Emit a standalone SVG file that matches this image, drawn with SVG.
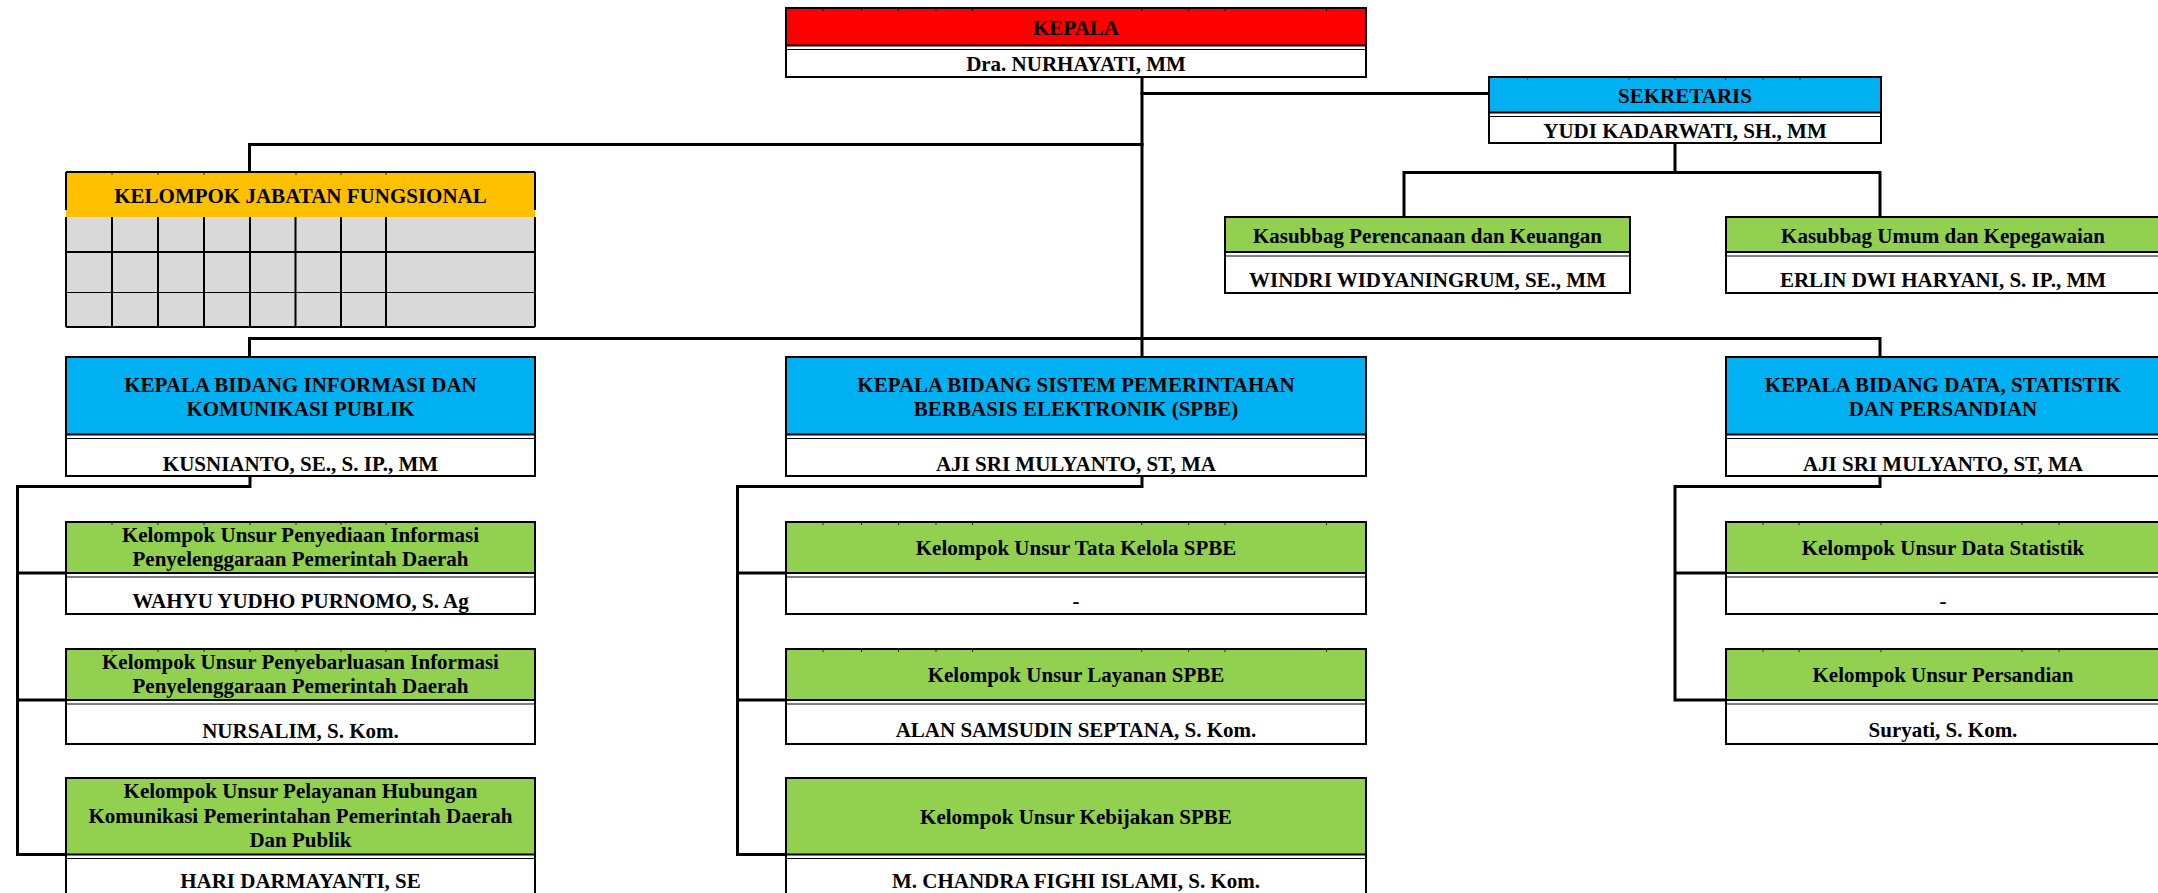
<svg xmlns="http://www.w3.org/2000/svg" width="2158" height="893" viewBox="0 0 2158 893">
<style>
  .bg{fill:#ffffff}
  .box{fill:#ffffff;stroke:#000;stroke-width:2}
  .frame{fill:none;stroke:#000;stroke-width:2}
  .red{fill:#ff0000}
  .blue{fill:#00b0f0}
  .green{fill:#92d050}
  .orange{fill:#ffc000}
  .gray{fill:#d9d9d9}
  .l2{stroke:#000;stroke-width:2;fill:none}
  .l1{stroke:#000;stroke-width:1.2;fill:none}
  .tick{stroke:#000;stroke-width:0.8;fill:none}
  .conn{stroke:#000;stroke-width:3;fill:none;stroke-linecap:square}
  text{font-family:"Liberation Serif","Times New Roman",serif;font-weight:bold;font-size:21px;text-anchor:middle;fill:#000}
</style>
<rect class="bg" x="0" y="0" width="2158" height="893"/>

<g id="connectors">
  <path class="conn" d="M1142 77V357"/>
  <path class="conn" d="M1142 93.5H1489"/>
  <path class="conn" d="M1142 144.5H249.5V172"/>
  <path class="conn" d="M249.5 338.5H1880M249.5 338.5V357M1880 338.5V357"/>
  <path class="conn" d="M1675 143V172.5M1404 217V172.5H1880V217"/>
  <path class="conn" d="M250 476V486.5H17.5V854.5M17.5 573H66M17.5 700H66M17.5 854.5H66"/>
  <path class="conn" d="M1142 476V486.5H737.5V854.5M737.5 573H786M737.5 700H786M737.5 854.5H786"/>
  <path class="conn" d="M1880 476V486.5H1675V700M1675 573H1726M1675 700H1726"/>
</g>

<g id="kepala">
  <rect class="box" x="786" y="8" width="580" height="69"/>
  <rect class="red" x="787" y="9" width="578" height="36.5"/>
  <path class="l2" d="M786 45.5H1366"/><path class="l1" d="M786 49.5H1366"/>
  <path class="tick" d="M823 8v3M861.5 8v3M898.6 8v3M936 8v3M972.5 8v3M1141.7 8v3M1188.7 8v3M1225 8v3M1326.5 8v3"/>
  <rect class="frame" x="786" y="8" width="580" height="69"/>
  <text x="1076" y="35">KEPALA</text>
  <text x="1076" y="70.7">Dra. NURHAYATI, MM</text>
</g>

<g id="sekretaris">
  <rect class="box" x="1489" y="77" width="392" height="66"/>
  <rect class="blue" x="1490" y="78" width="390" height="34.5"/>
  <path class="l2" d="M1489 112.5H1881"/><path class="l1" d="M1489 116.5H1881"/>
  <path class="tick" d="M1527.6 77v3M1629 77v3M1675 77v3M1725.6 77v3M1763 77v3M1800 77v3"/>
  <rect class="frame" x="1489" y="77" width="392" height="66"/>
  <text x="1685" y="102.7">SEKRETARIS</text>
  <text x="1685" y="138.3">YUDI KADARWATI, SH., MM</text>
</g>

<g id="kasubbag-perencanaan">
  <rect class="box" x="1225" y="217" width="405" height="76"/>
  <rect class="green" x="1226" y="218" width="403" height="34"/>
  <path class="l2" d="M1225 252H1630"/><path class="l1" d="M1225 256H1630"/>
  <rect class="frame" x="1225" y="217" width="405" height="76"/>
  <text x="1427.5" y="243.3">Kasubbag Perencanaan dan Keuangan</text>
  <text x="1427.5" y="287.3">WINDRI WIDYANINGRUM, SE., MM</text>
</g>

<g id="kasubbag-umum">
  <rect class="box" x="1726" y="217" width="436" height="76"/>
  <rect class="green" x="1727" y="218" width="434" height="34"/>
  <path class="l2" d="M1726 252H2162"/><path class="l1" d="M1726 256H2162"/>
  <rect class="frame" x="1726" y="217" width="436" height="76"/>
  <text x="1943" y="243.3">Kasubbag Umum dan Kepegawaian</text>
  <text x="1943" y="287.3">ERLIN DWI HARYANI, S. IP., MM</text>
</g>

<g id="kelompok-jabatan-fungsional">
  <rect class="orange" x="66" y="172" width="469" height="45"/>
  <rect class="gray" x="66" y="217" width="469" height="110"/>
  <path class="l2" d="M66 172H535M66 172V210M535 172V210"/>
  <path class="l2" d="M66 217V327M112 217V327M158 217V327M204 217V327M250 217V327M295.5 217V327M341 217V327M386 217V327M535 217V327"/>
  <path class="l2" d="M66 252H535M66 327H535"/>
  <path class="l1" d="M66 292.5H535"/>
  <path class="tick" d="M112 172v3M158 172v3M204 172v3M296 172v3M341 172v3M386 172v3"/>
  <text x="300.5" y="203.3">KELOMPOK JABATAN FUNGSIONAL</text>
</g>

<g id="bidang-ikp">
  <rect class="box" x="66" y="357" width="469" height="119"/>
  <rect class="blue" x="67" y="358" width="467" height="76.5"/>
  <path class="l2" d="M66 434.5H535"/><path class="l1" d="M66 438.5H535"/>
  <rect class="frame" x="66" y="357" width="469" height="119"/>
  <text x="300.5" y="392.3">KEPALA BIDANG INFORMASI DAN</text>
  <text x="300.5" y="416">KOMUNIKASI PUBLIK</text>
  <text x="300.5" y="471">KUSNIANTO, SE., S. IP., MM</text>
</g>

<g id="bidang-spbe">
  <rect class="box" x="786" y="357" width="580" height="119"/>
  <rect class="blue" x="787" y="358" width="578" height="76.5"/>
  <path class="l2" d="M786 434.5H1366"/><path class="l1" d="M786 438.5H1366"/>
  <rect class="frame" x="786" y="357" width="580" height="119"/>
  <text x="1076" y="392.3">KEPALA BIDANG SISTEM PEMERINTAHAN</text>
  <text x="1076" y="416">BERBASIS ELEKTRONIK (SPBE)</text>
  <text x="1076" y="471">AJI SRI MULYANTO, ST, MA</text>
</g>

<g id="bidang-data">
  <rect class="box" x="1726" y="357" width="436" height="119"/>
  <rect class="blue" x="1727" y="358" width="434" height="76.5"/>
  <path class="l2" d="M1726 434.5H2162"/><path class="l1" d="M1726 438.5H2162"/>
  <rect class="frame" x="1726" y="357" width="436" height="119"/>
  <text x="1943" y="392.3">KEPALA BIDANG DATA, STATISTIK</text>
  <text x="1943" y="416">DAN PERSANDIAN</text>
  <text x="1943" y="471">AJI SRI MULYANTO, ST, MA</text>
</g>

<g id="ikp-penyediaan">
  <rect class="box" x="66" y="522" width="469" height="92"/>
  <rect class="green" x="67" y="523" width="467" height="50"/>
  <path class="l2" d="M66 573H535"/><path class="l1" d="M66 577H535"/>
  <path class="tick" d="M112 522v3M158 522v3M204 522v3M250 522v3M296 522v3M341 522v3M386 522v3"/>
  <rect class="frame" x="66" y="522" width="469" height="92"/>
  <text x="300.5" y="541.7">Kelompok Unsur Penyediaan Informasi</text>
  <text x="300.5" y="566">Penyelenggaraan Pemerintah Daerah</text>
  <text x="300.5" y="608.3">WAHYU YUDHO PURNOMO, S. Ag</text>
</g>

<g id="ikp-penyebarluasan">
  <rect class="box" x="66" y="649" width="469" height="95"/>
  <rect class="green" x="67" y="650" width="467" height="50"/>
  <path class="l2" d="M66 700H535"/><path class="l1" d="M66 704H535"/>
  <path class="tick" d="M112 649v3M158 649v3M204 649v3M250 649v3M296 649v3M341 649v3M386 649v3"/>
  <rect class="frame" x="66" y="649" width="469" height="95"/>
  <text x="300.5" y="669.3">Kelompok Unsur Penyebarluasan Informasi</text>
  <text x="300.5" y="693.3">Penyelenggaraan Pemerintah Daerah</text>
  <text x="300.5" y="737.7">NURSALIM, S. Kom.</text>
</g>

<g id="ikp-pelayanan">
  <rect class="box" x="66" y="778" width="469" height="125"/>
  <rect class="green" x="67" y="779" width="467" height="75.5"/>
  <path class="l2" d="M66 854.5H535"/><path class="l1" d="M66 858.5H535"/>
  <rect class="frame" x="66" y="778" width="469" height="125"/>
  <text x="300.5" y="798.3">Kelompok Unsur Pelayanan Hubungan</text>
  <text x="300.5" y="823.3">Komunikasi Pemerintahan Pemerintah Daerah</text>
  <text x="300.5" y="846.7">Dan Publik</text>
  <text x="300.5" y="888.3">HARI DARMAYANTI, SE</text>
</g>

<g id="spbe-tata-kelola">
  <rect class="box" x="786" y="522" width="580" height="92"/>
  <rect class="green" x="787" y="523" width="578" height="50"/>
  <path class="l2" d="M786 573H1366"/><path class="l1" d="M786 577H1366"/>
  <path class="tick" d="M823 522v3M861.5 522v3M898.6 522v3M936 522v3M972.5 522v3M1141.7 522v3M1188.7 522v3M1225 522v3M1326.5 522v3"/>
  <rect class="frame" x="786" y="522" width="580" height="92"/>
  <text x="1076" y="555">Kelompok Unsur Tata Kelola SPBE</text>
  <text x="1076" y="608">-</text>
</g>

<g id="spbe-layanan">
  <rect class="box" x="786" y="649" width="580" height="95"/>
  <rect class="green" x="787" y="650" width="578" height="50"/>
  <path class="l2" d="M786 700H1366"/><path class="l1" d="M786 704H1366"/>
  <path class="tick" d="M823 649v3M861.5 649v3M898.6 649v3M936 649v3M972.5 649v3M1141.7 649v3M1188.7 649v3M1225 649v3M1326.5 649v3"/>
  <rect class="frame" x="786" y="649" width="580" height="95"/>
  <text x="1076" y="681.7">Kelompok Unsur Layanan SPBE</text>
  <text x="1076" y="737.3">ALAN SAMSUDIN SEPTANA, S. Kom.</text>
</g>

<g id="spbe-kebijakan">
  <rect class="box" x="786" y="778" width="580" height="125"/>
  <rect class="green" x="787" y="779" width="578" height="75.5"/>
  <path class="l2" d="M786 854.5H1366"/><path class="l1" d="M786 858.5H1366"/>
  <rect class="frame" x="786" y="778" width="580" height="125"/>
  <text x="1076" y="824.3">Kelompok Unsur Kebijakan SPBE</text>
  <text x="1076" y="888.3">M. CHANDRA FIGHI ISLAMI, S. Kom.</text>
</g>

<g id="data-statistik">
  <rect class="box" x="1726" y="522" width="436" height="92"/>
  <rect class="green" x="1727" y="523" width="434" height="50"/>
  <path class="l2" d="M1726 573H2162"/><path class="l1" d="M1726 577H2162"/>
  <path class="tick" d="M1763 522v3M1799 522v3M1881 522v3M2022 522v3M2059 522v3"/>
  <rect class="frame" x="1726" y="522" width="436" height="92"/>
  <text x="1943" y="555">Kelompok Unsur Data Statistik</text>
  <text x="1943" y="608">-</text>
</g>

<g id="data-persandian">
  <rect class="box" x="1726" y="649" width="436" height="95"/>
  <rect class="green" x="1727" y="650" width="434" height="50"/>
  <path class="l2" d="M1726 700H2162"/><path class="l1" d="M1726 704H2162"/>
  <path class="tick" d="M1763 649v3M1799 649v3M1881 649v3M2022 649v3M2059 649v3"/>
  <rect class="frame" x="1726" y="649" width="436" height="95"/>
  <text x="1943" y="681.7">Kelompok Unsur Persandian</text>
  <text x="1943" y="737.3">Suryati, S. Kom.</text>
</g>
</svg>
